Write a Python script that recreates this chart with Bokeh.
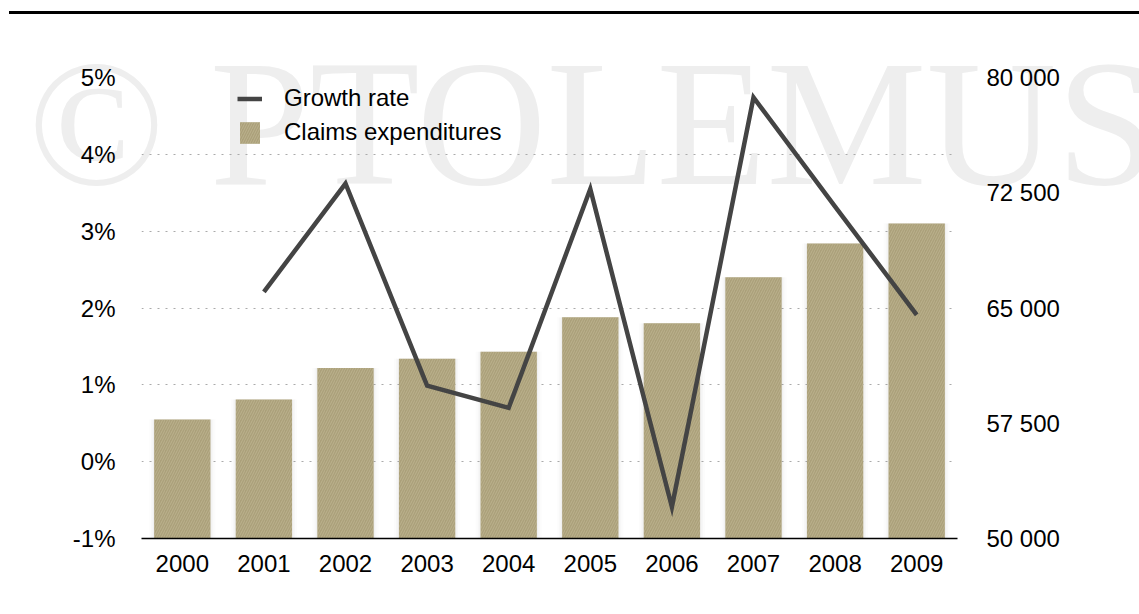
from bokeh.plotting import figure
from bokeh.models import (ColumnDataSource, Range1d, LinearAxis, FixedTicker, Legend,
                          LegendItem, Div, FactorRange)
from bokeh.layouts import column
from bokeh.embed import file_html
from bokeh.resources import INLINE

# ---- data ----
years = ["2000", "2001", "2002", "2003", "2004", "2005", "2006", "2007", "2008", "2009"]
claims = [57750, 59050, 61100, 61700, 62150, 64400, 64000, 67000, 69200, 70500]
growth_years = ["2001", "2002", "2003", "2004", "2005", "2006", "2007", "2008", "2009"]
growth = [2.21, 3.62, 0.99, 0.70, 3.55, -0.59, 4.74, 3.32, 1.91]

left_ticks = [-1, 0, 1, 2, 3, 4, 5]
left_labels = ["-1%", "0%", "1%", "2%", "3%", "4%", "5%"]
right_ticks = [50000, 57500, 65000, 72500, 80000]
right_labels = ["50 000", "57 500", "65 000", "72 500", "80 000"]
watermark = "\u00a9 PTOLEMUS"

FONT = "Liberation Sans"

bar_src = ColumnDataSource(dict(year=years, claims=claims))
line_src = ColumnDataSource(dict(year=growth_years, growth=growth))

p = figure(width=1139, height=610, x_range=FactorRange(factors=years),
           y_range=Range1d(-1, 5), output_backend="svg", toolbar_location=None,
           min_border_left=141, min_border_right=182, min_border_top=77,
           min_border_bottom=72)
p.extra_y_ranges = {"claims": Range1d(50000, 80000)}
p.outline_line_color = None
p.background_fill_color = None
p.border_fill_color = None

# bar shadows
for w, a in [(0.81, 0.025), (0.76, 0.035), (0.72, 0.05)]:
    p.vbar(x="year", top="claims", bottom=50000, width=w, source=bar_src,
           y_range_name="claims", fill_color="#777777", fill_alpha=a, line_color=None)

bars = p.vbar(x="year", top="claims", bottom=50000, width=0.69, source=bar_src,
              y_range_name="claims", fill_color="#aba07a", line_color=None,
              hatch_pattern="/", hatch_color="#d2caa8", hatch_alpha=0.5,
              hatch_scale=5, hatch_weight=0.8)

line = p.line(x="year", y="growth", source=line_src, line_color="#444444",
              line_width=4.5, line_join="miter")

# axes
p.xaxis.axis_line_color = "black"
p.xaxis.axis_line_width = 1.5
p.xaxis.major_tick_line_color = None
p.xaxis.minor_tick_line_color = None
p.xaxis.major_label_text_font = FONT
p.xaxis.major_label_text_font_size = "24px"
p.xaxis.major_label_text_color = "black"
p.xaxis.major_label_standoff = 10

p.yaxis.ticker = FixedTicker(ticks=left_ticks)
p.yaxis.major_label_overrides = {t: l for t, l in zip(left_ticks, left_labels)}
p.yaxis.axis_line_color = None
p.yaxis.major_tick_line_color = None
p.yaxis.minor_tick_line_color = None
p.yaxis.major_tick_out = 0
p.yaxis.major_label_standoff = 26
p.yaxis.major_label_text_font = FONT
p.yaxis.major_label_text_font_size = "24px"
p.yaxis.major_label_text_color = "black"

raxis = LinearAxis(y_range_name="claims", ticker=FixedTicker(ticks=right_ticks),
                   major_label_overrides={t: l for t, l in zip(right_ticks, right_labels)},
                   axis_line_color=None, major_tick_line_color=None,
                   minor_tick_line_color=None, major_tick_out=0,
                   major_label_standoff=29, major_label_text_font=FONT,
                   major_label_text_font_size="24px", major_label_text_color="black")
p.add_layout(raxis, "right")

p.xgrid.grid_line_color = None
p.ygrid.grid_line_color = "#aaaaaa"
p.ygrid.grid_line_dash = "2 6"
p.ygrid.grid_line_width = 1.2

legend = Legend(items=[LegendItem(label="Growth rate", renderers=[line]),
                       LegendItem(label="Claims expenditures", renderers=[bars])],
                location=(96, 392), label_text_font=FONT, label_text_font_size="24px",
                label_text_color="black", glyph_width=25, glyph_height=27,
                label_height=27, label_standoff=22, spacing=6, padding=0, margin=0,
                border_line_color=None, background_fill_alpha=0)
p.add_layout(legend)

# background layer: top rule + watermark, lying behind the (transparent) plot
bg_html = (
    '<div style="position:relative;width:1139px;height:214px;">'
    '<div style="position:absolute;left:9px;top:11px;width:1130px;height:3px;'
    'background:#000000;"></div>'
    '<div style="position:absolute;left:28px;top:34px;font-family:\'Liberation Serif\';'
    'font-size:180px;line-height:180px;color:#eeeeee;white-space:nowrap;">'
    + watermark + '</div></div>'
)
bg = Div(text=bg_html, width=1139, height=214, margin=(0, 0, -214, 0))

layout = column(bg, p)
open("out.html", "w").write(file_html(layout, INLINE))
